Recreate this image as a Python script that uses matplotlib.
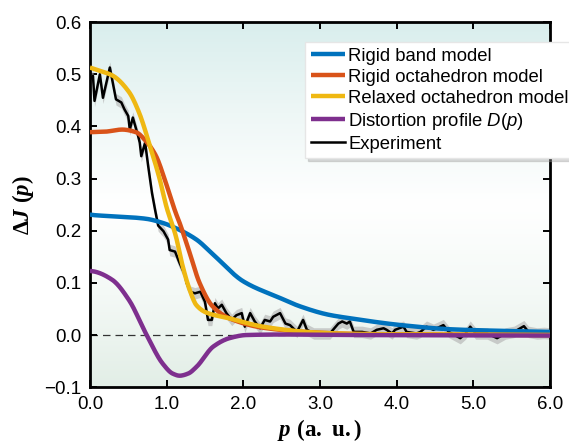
"""Compton profile difference: experiment vs. models."""

import matplotlib.pyplot as plt
import numpy as np
from matplotlib.colors import LinearSegmentedColormap

plt.rcParams["font.family"] = ["Liberation Sans", "DejaVu Sans"]
plt.rcParams["mathtext.fontset"] = "custom"
plt.rcParams["mathtext.rm"] = "Liberation Sans"
plt.rcParams["mathtext.it"] = "Liberation Sans:italic"
plt.rcParams["mathtext.bf"] = "Liberation Serif:bold"
plt.rcParams["mathtext.bfit"] = "Liberation Serif:italic:bold"

# ── data ─────────────────────────────────────────────────────────────────────
rigid_band_p = [0.0, 0.05, 0.4, 0.73, 0.95, 1.12, 1.39, 1.61, 2.0, 2.48, 2.74,
                3.11, 3.40, 4.06, 4.71, 5.37, 6.0]
rigid_band_J = [0.231, 0.230, 0.227, 0.223, 0.215, 0.205, 0.183, 0.154, 0.103,
                0.071, 0.055, 0.039, 0.032, 0.019, 0.011, 0.008, 0.006]

rigid_oct_p = [0.0, 0.2, 0.42, 0.6, 0.73, 0.86, 0.99, 1.12, 1.17, 1.30, 1.43,
               1.60, 1.82, 2.26, 2.92, 3.5, 4.5, 6.0]
rigid_oct_J = [0.389, 0.390, 0.394, 0.389, 0.372, 0.344, 0.292, 0.234, 0.215,
               0.158, 0.100, 0.055, 0.032, 0.014, 0.005, 0.002, 0.001, 0.0]

relaxed_oct_p = [0.0, 0.1, 0.29, 0.51, 0.64, 0.77, 0.91, 1.0, 1.12, 1.21, 1.30,
                 1.39, 1.52, 1.82, 2.26, 2.92, 3.5, 4.5, 6.0]
relaxed_oct_J = [0.513, 0.508, 0.498, 0.466, 0.427, 0.369, 0.299, 0.245, 0.19,
                 0.132, 0.087, 0.057, 0.043, 0.032, 0.016, 0.005, 0.002, 0.001, 0.0]

distortion_p = [0.0, 0.05, 0.29, 0.51, 0.73, 0.95, 1.08, 1.17, 1.28, 1.39, 1.61,
                1.82, 2.04, 2.5, 3.5, 6.0]
distortion_J = [0.123, 0.122, 0.106, 0.067, 0.003, -0.055, -0.074, -0.078,
                -0.074, -0.061, -0.022, -0.006, 0.0, 0.001, 0.0, -0.001]

exp_p = [0.0, 0.04, 0.06, 0.13, 0.17, 0.26, 0.34, 0.41, 0.45, 0.50, 0.52, 0.56,
         0.63, 0.65, 0.67, 0.72, 0.76, 0.81, 0.85, 0.89, 0.96, 1.02, 1.04,
         1.11, 1.17, 1.24, 1.26, 1.31, 1.37, 1.44, 1.50, 1.54, 1.59, 1.63,
         1.67, 1.72, 1.78, 1.85, 1.91, 1.98, 2.02, 2.09, 2.15, 2.22, 2.28,
         2.35, 2.39, 2.48, 2.55, 2.61, 2.70, 2.78, 2.83, 2.92, 3.05, 3.13,
         3.24, 3.29, 3.35, 3.39, 3.44, 3.55, 3.66, 3.74, 3.83, 3.87, 3.94,
         3.98, 4.09, 4.13, 4.26, 4.31, 4.39, 4.48, 4.61, 4.68, 4.83, 4.90,
         4.96, 5.03, 5.18, 5.31, 5.42, 5.53, 5.66, 5.72, 5.83, 5.92, 6.0]
exp_J = [0.49, 0.497, 0.449, 0.50, 0.455, 0.513, 0.452, 0.446, 0.433, 0.42,
         0.394, 0.417, 0.381, 0.369, 0.343, 0.369, 0.324, 0.272, 0.24, 0.21,
         0.199, 0.183, 0.163, 0.16, 0.138, 0.115, 0.10, 0.083, 0.080, 0.083,
         0.064, 0.029, 0.029, 0.061, 0.051, 0.058, 0.042, 0.029, 0.038, 0.042,
         0.016, 0.042, 0.026, 0.013, 0.029, 0.026, 0.035, 0.042, 0.022, 0.019,
         0.006, 0.029, 0.01, 0.003, 0.003, 0.003, 0.022, 0.026, 0.022, 0.026,
         0.006, 0.006, 0.003, 0.01, 0.013, 0.01, 0.003, 0.01, 0.016, 0.006,
         0.003, 0.006, 0.016, 0.01, 0.019, 0.006, -0.006, 0.003, 0.016, 0.003,
         0.003, -0.006, 0.003, 0.006, 0.017, 0.006, 0.003, 0.004, 0.003]
exp_err = 0.011

series = [
    ("Rigid band model", rigid_band_p, rigid_band_J, "#0072bd"),
    ("Rigid octahedron model", rigid_oct_p, rigid_oct_J, "#d95319"),
    ("Relaxed octahedron model", relaxed_oct_p, relaxed_oct_J, "#efb812"),
    ("Distortion profile $D$($p$)", distortion_p, distortion_J, "#7e2f8e"),
]

x_ticks = [0, 1, 2, 3, 4, 5, 6]
y_ticks = [-0.1, 0.0, 0.1, 0.2, 0.3, 0.4, 0.5, 0.6]


def smooth(px, py):
    """Monotone cubic through the read-off points, just to draw a smooth line."""
    px = np.asarray(px, float)
    py = np.asarray(py, float)
    xs = np.linspace(px[0], px[-1], 600)
    h = np.diff(px)
    d = np.diff(py) / h
    m = np.zeros_like(py)
    m[0], m[-1] = d[0], d[-1]
    for i in range(1, len(py) - 1):
        if d[i - 1] * d[i] > 0:
            w1 = 2 * h[i] + h[i - 1]
            w2 = h[i] + 2 * h[i - 1]
            m[i] = (w1 + w2) / (w1 / d[i - 1] + w2 / d[i])
    idx = np.clip(np.searchsorted(px, xs) - 1, 0, len(px) - 2)
    t = (xs - px[idx]) / h[idx]
    h00 = 2 * t**3 - 3 * t**2 + 1
    h10 = t**3 - 2 * t**2 + t
    h01 = -2 * t**3 + 3 * t**2
    h11 = t**3 - t**2
    ys = (h00 * py[idx] + h10 * h[idx] * m[idx] + h01 * py[idx + 1]
          + h11 * h[idx] * m[idx + 1])
    return xs, ys


fig = plt.figure(figsize=(5.69, 4.43), dpi=100)
ax = fig.add_axes([0.158, 0.126, 0.8086, 0.824])

# background gradient
bg = LinearSegmentedColormap.from_list(
    "bg", ["#e2eee6", "#f4f9f6", "#ffffff", "#eef7f6", "#d9eeed"])
grad = np.linspace(0, 1, 256).reshape(-1, 1)
ax.imshow(grad, cmap=bg, aspect="auto", origin="lower",
          extent=[0, 6, -0.1, 0.6], zorder=0)

ax.axhline(0, color="#333333", linewidth=0.9, linestyle=(0, (6, 4)), zorder=1)

ep = np.asarray(exp_p)
ej = np.asarray(exp_J)
ax.fill_between(ep, ej - exp_err, ej + exp_err, color="#b0b0b0", alpha=0.6,
                linewidth=0, zorder=2)

handles = []
for label, px, py, color in series:
    xs, ys = smooth(px, py)
    h, = ax.plot(xs, ys, color=color, linewidth=3.2, label=label, zorder=4,
                 solid_capstyle="butt")
    handles.append(h)
h, = ax.plot(ep, ej, color="black", linewidth=1.8, label="Experiment", zorder=3)
handles.append(h)

ax.set_xlim(0, 6)
ax.set_ylim(-0.1, 0.6)
ax.set_xticks(x_ticks)
ax.set_xticklabels([f"{v:.1f}" for v in x_ticks])
ax.set_yticks(y_ticks)
ax.set_yticklabels([f"{v:.1f}".replace("-", "\u2212") for v in y_ticks])
ax.tick_params(direction="in", top=True, right=True, length=5, width=1.4,
               labelsize=13.5, pad=6)
for s in ax.spines.values():
    s.set_linewidth(2)

ax.set_xlabel(r"$\mathbfit{p}\ \mathbf{(a.\ u.)}$", fontsize=16.5, labelpad=3)
ax.set_ylabel(r"$\mathbf{\Delta}\mathbfit{J}\ \mathbf{(}\mathbfit{p}\mathbf{)}$",
              fontsize=16.5, labelpad=6)

leg = fig.legend(handles=handles, loc="upper left",
                 bbox_to_anchor=(0.536, 0.905), bbox_transform=fig.transFigure,
                 fontsize=13.3, frameon=True, fancybox=False, framealpha=1,
                 edgecolor="#e6e6e6", handlelength=1.85, handletextpad=0.2,
                 labelspacing=0.22, borderpad=0.3, borderaxespad=0,
                 shadow={"color": "#999999", "alpha": 0.35})
leg.set_zorder(10)

fig.savefig("out.png", dpi=100)
